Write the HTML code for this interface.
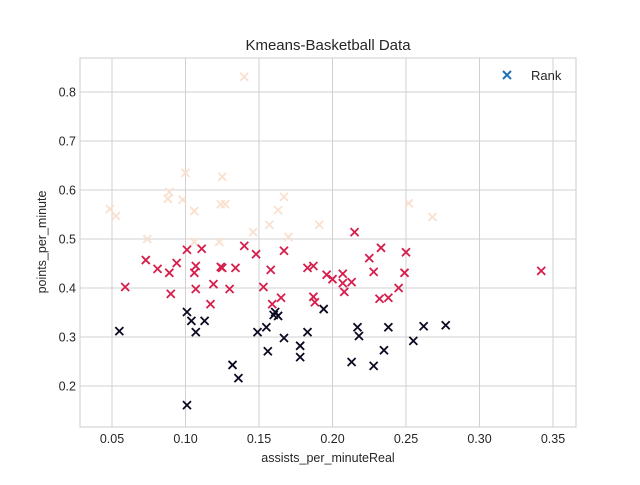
<!DOCTYPE html>
<html><head><meta charset="utf-8"><style>
body{margin:0;background:#fff;}
svg text{font-family:"Liberation Sans",Arial,sans-serif;fill:#262626;}
</style></head><body>
<svg width="640" height="480">
<rect x="80" y="58" width="496" height="369" fill="#fff" stroke="#cccccc"/>
<g id="grid"></g>
<g id="marks"></g>
<text x="328" y="50" text-anchor="middle" font-size="15">Kmeans-Basketball Data</text>
<text x="328" y="462" text-anchor="middle" font-size="12.5">assists_per_minuteReal</text>
<text x="46" y="242" text-anchor="middle" font-size="12.5" transform="rotate(-90 46 242)">points_per_minute</text>
<g>
<path d="M503,71 l8,8 M511,71 l-8,8" stroke="#1f6fb4" stroke-width="2"/>
<text x="531" y="80" font-size="13">Rank</text>
</g>
</svg>
<script>
const xTicks=[0.05,0.10,0.15,0.20,0.25,0.30,0.35];
const yTicks=[0.2,0.3,0.4,0.5,0.6,0.7,0.8];
const lightX=[0.140,0.0486,0.0527,0.074,0.100,0.089,0.088,0.098,0.106,0.125,0.124,0.127,0.106,0.123,0.146,0.157,0.163,0.167,0.170,0.191,0.252,0.268];
const lightY=[0.831,0.561,0.547,0.500,0.635,0.596,0.582,0.580,0.557,0.627,0.571,0.571,0.494,0.494,0.514,0.529,0.559,0.586,0.504,0.529,0.573,0.545];
const redX=[0.059,0.073,0.081,0.089,0.090,0.094,0.101,0.107,0.106,0.107,0.111,0.117,0.119,0.124,0.125,0.130,0.134,0.140,0.148,0.158,0.153,0.159,0.165,0.167,0.183,0.187,0.187,0.188,0.196,0.200,0.207,0.207,0.208,0.213,0.215,0.225,0.228,0.233,0.232,0.238,0.245,0.249,0.250,0.342];
const redY=[0.402,0.457,0.439,0.431,0.388,0.451,0.478,0.445,0.431,0.398,0.480,0.367,0.408,0.443,0.441,0.398,0.441,0.486,0.469,0.437,0.402,0.367,0.380,0.476,0.441,0.445,0.382,0.371,0.427,0.418,0.429,0.410,0.392,0.412,0.514,0.461,0.433,0.482,0.378,0.380,0.400,0.431,0.473,0.435];
const darkX=[0.055,0.101,0.104,0.107,0.113,0.132,0.136,0.101,0.149,0.155,0.156,0.160,0.161,0.163,0.167,0.178,0.178,0.183,0.194,0.213,0.217,0.218,0.228,0.235,0.238,0.255,0.262,0.277];
const darkY=[0.312,0.351,0.333,0.310,0.333,0.243,0.216,0.161,0.310,0.320,0.271,0.345,0.351,0.343,0.298,0.282,0.259,0.310,0.357,0.249,0.320,0.302,0.241,0.273,0.320,0.292,0.322,0.324];
const NS="http://www.w3.org/2000/svg";
const sx=v=>112+(v-0.05)*1470;
const sy=v=>288-(v-0.4)*490;
const grid=document.getElementById('grid'),marks=document.getElementById('marks');
function mk(t,a,p){const e=document.createElementNS(NS,t);for(const k in a)e.setAttribute(k,a[k]);p.appendChild(e);return e;}
xTicks.forEach(t=>{const x=sx(t);
const l=mk('line',{x1:x,x2:x,y1:58,y2:427,stroke:'#d0d0d0'},grid);


const tx=mk('text',{x:x,y:443,'text-anchor':'middle','font-size':'12.5'},grid);tx.textContent=t.toFixed(2);

});
yTicks.forEach(t=>{const y=sy(t);
const l=mk('line',{x1:80,x2:576,y1:y,y2:y,stroke:'#d0d0d0'},grid);


const tx=mk('text',{x:76,y:y+4.5,'text-anchor':'end','font-size':'12.5'},grid);tx.textContent=t.toFixed(1);

});
function series(xs,ys,color,name){xs.forEach((v,i)=>{const x=sx(v),y=sy(ys[i]);
const p=mk('path',{d:`M${x-4},${y-4} l8,8 M${x+4},${y-4} l-8,8`,stroke:color,'stroke-width':'1.8'},marks);

});}
series(lightX,lightY,'#fae0cf','point-cluster-light');
series(redX,redY,'#d61e4c','point-cluster-red');
series(darkX,darkY,'#0b0a22','point-cluster-dark');
</script>
</body></html>
